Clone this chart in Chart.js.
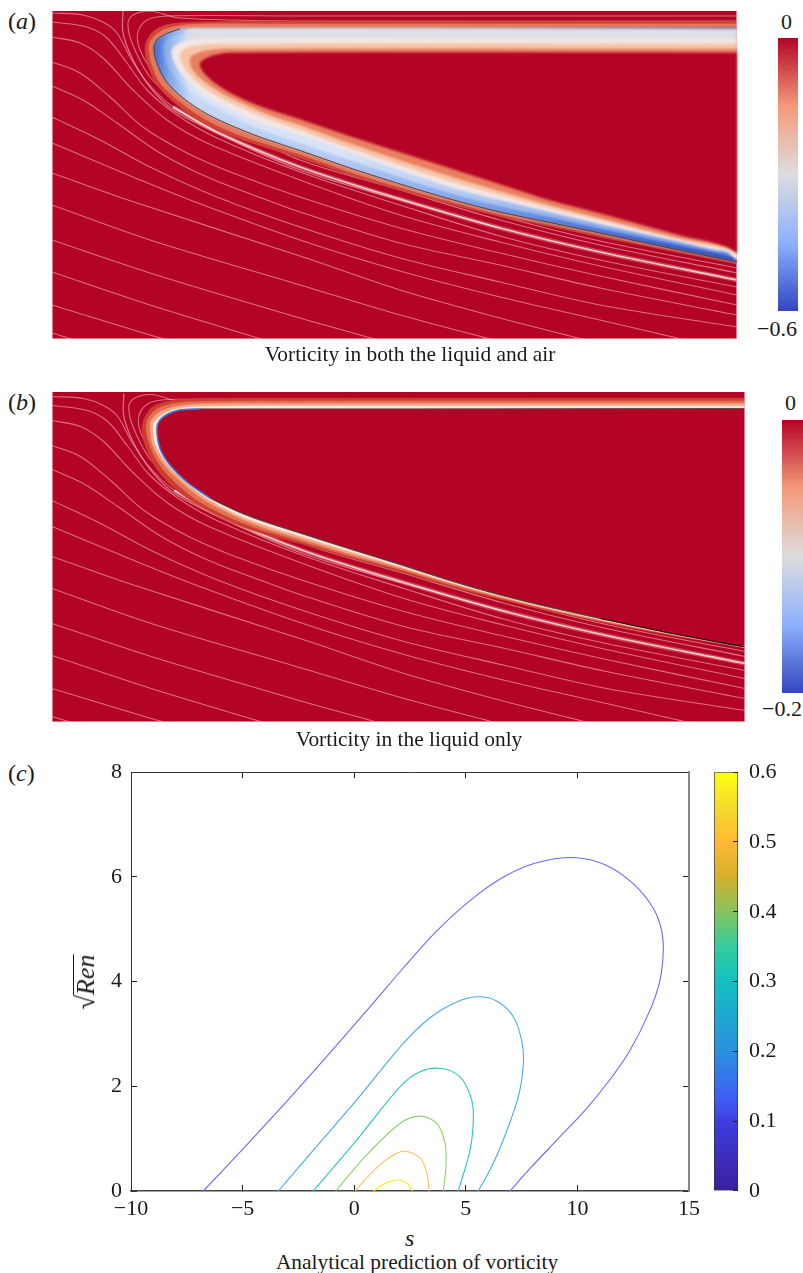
<!DOCTYPE html>
<html><head><meta charset="utf-8">
<script src="https://cdn.jsdelivr.net/npm/chart.js@4"></script>
<style>
html,body{margin:0;padding:0;background:#fff;width:803px;height:1273px;overflow:hidden}
canvas{position:absolute;display:block}
.field{filter:blur(.6px)}
.soft{filter:blur(1.2px)}
.t{position:absolute;font-family:"Liberation Serif",serif;color:#1a1a1a;white-space:nowrap;line-height:1}
.c{transform:translateX(-50%);font-size:21.4px}
.n{font-size:22px}
.l{font-size:24px}
i{font-style:italic}
</style></head><body>
<canvas id="fa" class="field" style="left:52px;top:11px" width="685" height="328"></canvas>
<canvas id="fa2" class="soft" style="left:52px;top:11px" width="685" height="328"></canvas>
<canvas id="fa3" class="field" style="left:52px;top:11px" width="685" height="328"></canvas>
<canvas id="fb" class="field" style="left:52px;top:392px" width="693" height="330"></canvas>
<canvas id="ca" style="left:778px;top:38px" width="20" height="273"></canvas>
<canvas id="cb" style="left:782px;top:420px" width="21" height="273"></canvas>
<canvas id="pc" style="left:70px;top:744px" width="641" height="481"></canvas>
<canvas id="cc" style="left:714px;top:743px" width="76" height="477"></canvas>

<div class="t l" style="left:8px;top:9px">(<i>a</i>)</div>
<div class="t l" style="left:8px;top:390px">(<i>b</i>)</div>
<div class="t l" style="left:8px;top:761px">(<i>c</i>)</div>
<div class="t n" style="left:781px;top:11px">0</div>
<div class="t n" style="left:757px;top:318px">−0.6</div>
<div class="t n" style="left:785px;top:392px">0</div>
<div class="t n" style="left:762px;top:698px">−0.2</div>
<div class="t c" style="left:410px;top:344px">Vorticity in both the liquid and air</div>
<div class="t c" style="left:409px;top:729px">Vorticity in the liquid only</div>
<div class="t c" style="left:417px;top:1252px">Analytical prediction of vorticity</div>
<div class="t" style="left:405px;top:1226px;font-size:24px"><i>s</i></div>
<div class="t" style="left:86px;top:982px;font-size:26px;transform:translate(-50%,-50%) rotate(-90deg)">√<i style="display:inline-block;line-height:23px;border-top:1.2px solid #1a1a1a">Ren</i></div>

<script>
// ---------- panels (a), (b): shared flow coordinates ----------
const streamTopOuter = [[737,16],[300,16],[167,16],[147,20],[138,32],[140,50],[157,77],[183,100],[233,125],[300,157],[400,187],[500,216],[600,241],[737,268]];
const streamTopInner = [[737,21],[300,21],[180,18],[150,11],[133,15],[128,23],[132,43],[150,77],[177,100],[233,128],[300,160],[400,190],[500,220],[600,245],[737,273]];
const streamFan = [[123,10],[123,33],[133,60],[150,87],[173,110],[217,133],[300,170],[400,200],[500,228]];
const streamWhite = [[52,13],[83,15],[103,22],[117,33],[130,57],[147,82],[173,107],[217,132],[300,167],[400,199],[500,228],[600,252],[737,280]];
const stream2 = [[52,22],[87,27],[107,38],[127,63],[147,90],[177,115],[217,138],[300,172],[400,205],[500,236],[600,260],[737,287]];
const stream3 = [[52,37],[80,43],[103,58],[133,90],[167,120],[207,143],[300,180],[400,215],[500,242],[600,266],[737,295]];
const stream4 = [[52,62],[80,73],[110,97],[143,127],[187,153],[233,173],[300,197],[400,228],[500,253],[600,276],[737,305]];
const stream5 = [[52,86],[83,100],[117,123],[160,153],[207,177],[267,200],[300,212],[400,243],[500,265],[600,288],[737,315]];
const stream6 = [[52,117],[100,140],[150,167],[217,197],[300,227],[400,258],[500,282],[600,305],[737,327]];
const stream7 = [[52,143],[133,177],[190,200],[300,240],[400,271],[500,297],[600,320],[690,341]];
const stream8 = [[52,173],[128,200],[300,256],[400,290],[500,318],[590,341]];
const stream9 = [[52,205],[150,240],[300,285],[400,315],[498,341]];
const stream10 = [[52,240],[150,273],[300,318],[382,341]];
const stream11 = [[52,272],[150,305],[268,341]];
const stream12 = [[52,305],[150,335],[172,341]];
const stream13 = [[52,333],[78,341]];

const interfaceA = [[745,28],[600,28],[400,28],[250,28],[200,28],[180,29],[168,33],[158,39],[154,47],[157,63],[166,81],[183,98],[207,114],[237,128],[264,138.5],[300,150.5],[350,168],[400,184],[450,199],[500,212],[550,222.5],[600,233],[670,248],[737,262],[745,264]];
const outerA1 = [[745,21],[300,21],[200,22],[170,24],[155,30],[147,40],[145,50],[148,66],[158,86],[176,104],[200,121],[232,136],[262,146.5],[300,158],[350,175],[400,190],[450,204],[500,216.5],[550,226.5],[600,237],[670,251],[737,264],[745,265]];
const outerA2 = [[745,24],[300,24],[200,24],[172,27],[158,33],[150,42],[149,50],[152,65],[161,84],[179,101],[203,118],[234,133],[263,143],[300,154.5],[350,172],[400,187.5],[450,201.5],[500,214.5],[550,224.5],[600,235],[670,249.5],[737,263],[745,265]];
const stripA = [[745,29],[196,29],[186,32],[190,43],[745,43]];
const innerA0 = [[745,34],[200,34],[175,36],[165,42],[163,50],[166,62],[176,78],[195,95],[225,113],[262,130],[300,143],[350,160],[400,177],[450,193],[500,206],[550,217],[600,228.5],[680,245.5],[737,258],[745,262]];
const innerA1 = [[745,39],[400,39],[220,39],[190,40],[178,44],[172,50],[174,62],[185,78],[205,95],[235,112],[262,123.5],[300,135],[350,152],[400,170],[450,187],[500,200],[550,212],[600,224],[680,242],[715,250],[727,252],[737,260],[745,262]];
const innerA2 = [[745,44],[220,44],[195,46],[183,50],[180,55],[183,65],[194,79],[212,93],[238,106],[265,117.5],[300,130],[350,148],[400,165],[450,181],[500,195],[550,208],[600,220],[680,240],[720,248],[728,250],[745,258]];
const innerA3 = [[745,49],[230,49],[205,51],[192,56],[190,60],[193,70],[205,82],[222,93],[245,104],[270,115],[300,125],[350,143],[400,160],[450,176],[500,191],[550,205],[600,218],[680,238],[725,247],[745,258]];
const innerA4 = [[745,53],[230,53],[212,56],[202,61],[200,65],[205,74],[218,85],[235,95],[255,104],[275,111],[300,119],[350,136],[400,152],[450,168],[500,184],[550,200],[600,213],[680,235],[725,246],[745,258]];

const interfaceB = [[745,25],[396,25.5],[248,25.5],[198,25.5],[178.5,26.5],[166.7,30.5],[158.8,36.5],[155.8,44.5],[158.7,64.5],[168.6,81.5],[185.4,98.5],[208.2,114.5],[237.8,129],[264.5,139],[297,149.5],[345,165],[396,181],[445,197],[495,211.5],[545,224],[594,235],[665,250],[737,263.5],[745,265]];
const outerB1 = [[745,14.5],[300,14.5],[200,15],[170,17],[152,23],[144,33],[141,44],[144,62],[155,85],[173,105],[197,122],[230,139],[258,149.5],[297,160],[345,174],[396,188],[445,203],[495,216],[545,228],[594,238.5],[665,252],[737,264.5],[745,266]];
const outerB2 = [[745,17.5],[300,17.5],[200,18],[172,20],[155,26],[147,35],[145,44],[148,60],[158,81],[176,101],[199,119],[232,136],[260,146.5],[297,157.5],[345,172],[396,186],[445,201],[495,214.5],[545,226.5],[594,237.5],[665,251.5],[737,264],[745,266]];
const outerB3 = [[745,20],[300,20],[200,20.5],[174,23],[158,29],[150,37],[149,45],[151,60],[161,79],[179,98],[202,116],[234,133],[261,144],[297,155],[345,170],[396,184.5],[445,199.5],[495,213.5],[545,226],[594,236.5],[665,251],[737,264],[745,266]];
const outerB4 = [[745,22.5],[300,22.5],[200,23],[176,25],[161,31],[153,39],[152,45],[154,60],[164,78],[181,96],[204,114],[235,131],[262,141.5],[297,152.5],[345,167.5],[396,183],[445,198.5],[495,212.5],[545,225],[594,236],[665,250.5],[737,264],[745,266]];

// ---------- panel (c): contour levels (s, sqrt(Re) n) ----------
const level01 = [[-6.76,0],[-4.97,.81],[-2.88,1.78],[-.94,2.71],[.83,3.58],[2.2,4.26],[3.7,4.97],[5.34,5.6],[6.83,6.03],[8.17,6.27],[9.82,6.37],[11.31,6.22],[12.5,5.87],[13.4,5.4],[13.77,4.98],[13.85,4.6],[13.7,4.03],[13.25,3.45],[12.36,2.69],[11.46,2.13],[10.42,1.58],[9.07,.97],[7.88,.43],[6.98,0]];
const level02 = [[-3.4,0],[-1.83,.78],[.11,1.74],[2.2,2.82],[3.4,3.31],[4.59,3.61],[5.49,3.71],[6.38,3.63],[7.13,3.33],[7.5,2.88],[7.58,2.44],[7.35,1.8],[6.68,.98],[6.08,.4],[5.56,0]];
const level03 = [[-1.83,0],[.11,.97],[2.05,1.99],[2.95,2.28],[3.92,2.34],[4.74,2.18],[5.22,1.8],[5.34,1.42],[5.19,.78],[4.66,0]];
const level04 = [[-.83,0],[.56,.69],[2.05,1.29],[2.95,1.43],[3.7,1.29],[4.07,.91],[4.11,.46],[3.99,0]];
const level05 = [[.04,0],[1,.44],[1.9,.72],[2.42,.75],[3.02,.59],[3.29,.27],[3.35,0]];
const level06 = [[.86,0],[1.46,.16],[1.98,.21],[2.42,.13],[2.62,0]];
const levelColors = ['#6a6cf2','#4ba9f0','#2cc5bd','#8fce6c','#fcc062','#f6ee22'];
const sTicks = [-10,-5,0,5,10,15];
const nTicks = [0,2,4,6,8];
const barTicks = [0,.1,.2,.3,.4,.5,.6];

const RED='#b40426', STREAM='rgba(243,178,178,.62)';
Chart.defaults.animation=false;
Chart.defaults.font.family='"Liberation Serif", serif';
Chart.defaults.color='#1a1a1a';

const xy = a => a.map(([x,y])=>({x,y}));
const poly = (pts,color)=>({data:xy(pts),showLine:true,fill:'shape',backgroundColor:color,borderColor:color,borderWidth:.5,pointRadius:0,tension:.33});
const line = (pts,color,w)=>({data:xy(pts),showLine:true,fill:false,borderColor:color,borderWidth:w,pointRadius:0,tension:.33});

const panelFrame={id:'panelFrame',
 beforeDraw(c){const x=c.ctx,a=c.chartArea;x.save();x.fillStyle=RED;x.fillRect(a.left,a.top,a.width,a.height);x.restore();},
 afterDraw(c){const x=c.ctx,w=c.width,h=c.height;x.save();x.strokeStyle='rgba(245,175,175,.9)';x.lineWidth=1.5;x.beginPath();x.moveTo(0,0);x.lineTo(0,h);x.lineTo(w,h);x.lineTo(w,0);x.stroke();x.restore();}};

function hGradient(id,w,stops){const g=document.getElementById(id).getContext('2d').createLinearGradient(0,0,w,0);
 stops.forEach(([u,c])=>g.addColorStop((u-52)/685,c));return g;}

function streamLayers(){
 const plain=[streamTopOuter,streamTopInner,streamWhite.slice(0,8),stream2,stream3,stream4,stream5,stream6,stream7,stream8,stream9,stream10,stream11,stream12,stream13].map(s=>line(s,STREAM,1.1));
 const bright=streamWhite.slice(6);
 return [line(streamFan,'rgba(243,178,190,.6)',1.3),line(bright,'rgba(250,170,160,.38)',4.5),...plain,line(bright,'rgba(255,236,236,.8)',1.7)];
}
function panelChart(id,yMin,yMax,layers,framed){
 return new Chart(document.getElementById(id),{type:'scatter',
  data:{datasets:layers.slice().reverse()},
  plugins:framed?[panelFrame]:[],
  options:{responsive:false,layout:{padding:0},
   plugins:{legend:{display:false},tooltip:{enabled:false}},
   scales:{x:{type:'linear',display:false,min:52,max:737},y:{type:'linear',display:false,reverse:true,min:yMin,max:yMax}}}});
}

const bandA=hGradient('fa2',685,[[150,'#2f58cb'],[168,'#7aa2e8'],[190,'#c6d8f5'],[340,'#b4caf3'],[430,'#8fb0ed'],[520,'#6a92e3'],[620,'#4069d4'],[737,'#2f4cbe']]);
const bandLightA=hGradient('fa2',685,[[150,'#3f6cd4'],[168,'#8fb2ec'],[190,'#d6e3f8'],[340,'#d6e3f8'],[430,'#bcd1f4'],[520,'#a0bcf0'],[620,'#84a6ea'],[737,'#5f88e0']]);
panelChart('fa',11,339,[...streamLayers(),poly(outerA1,'#cf4436'),poly(outerA2,'#e5785a')],true);
panelChart('fa2',11,339,[
 poly(interfaceA,bandA),
 poly(innerA0,bandLightA),
 poly(stripA,'#dcdfe6'),
 poly(innerA1,'#f2e6e4'),poly(innerA2,'#f7c4a8'),poly(innerA3,'#e87f5f'),poly(innerA4,RED)
],false);
panelChart('fa3',11,339,[line(interfaceA.slice(5),'rgba(60,60,55,.85)',1)],false);
panelChart('fb',8.5,338.5,[
 ...streamLayers(),
 poly(outerB1,'#cc3d32'),poly(outerB2,'#e4714f'),poly(outerB3,'#f3a688'),poly(outerB4,'#fbe3d8'),
 poly(interfaceB,RED),
 line(interfaceB.slice(0,4),'rgba(70,80,80,.9)',1.2),
 line(interfaceB.slice(3,12),'#3a74d8',1.6),
 line(interfaceB.slice(11,21),'rgba(50,80,70,.85)',1),
 line(interfaceB.slice(20),'rgba(15,15,15,.95)',1.1)
],true);

// ---------- colour bars ----------
function vGradient(id,y0,y1,stops){const g=document.getElementById(id).getContext('2d').createLinearGradient(0,y0,0,y1);
 stops.forEach(([u,c])=>g.addColorStop(u,c));return g;}
const coolwarm=[[0,'#b40426'],[.25,'#f49a7b'],[.5,'#dddddd'],[.75,'#8db0fe'],[1,'#3346c0']];
function fieldBar(id,lo,h){
 new Chart(document.getElementById(id),{type:'bar',
  data:{labels:['v'],datasets:[{data:[[lo,0]],backgroundColor:vGradient(id,0,h,coolwarm),barPercentage:1,categoryPercentage:1,borderWidth:0}]},
  options:{responsive:false,layout:{padding:0},plugins:{legend:{display:false},tooltip:{enabled:false}},
   scales:{x:{display:false},y:{display:false,min:lo,max:0}}}});
}
fieldBar('ca',-0.6,273);
fieldBar('cb',-0.2,273);

// ---------- panel (c) ----------
const tickFont={size:22,family:'"Liberation Serif", serif'};
const fmt=v=>String(v).replace('-','\u2212');
const fixedSize=(k,s)=>sc=>{sc[k]=s;};
new Chart(document.getElementById('pc'),{type:'scatter',
 data:{datasets:[level01,level02,level03,level04,level05,level06].map((l,i)=>line(l,levelColors[i],1.1))},
 options:{responsive:false,layout:{padding:{top:20,right:20,left:0,bottom:0}},
  plugins:{legend:{display:false},tooltip:{enabled:false}},
  scales:{
   x:{type:'linear',position:'bottom',min:-10,max:15,afterBuildTicks:s=>{s.ticks=sTicks.map(v=>({value:v}));},afterFit:fixedSize('height',34),
      border:{display:true,color:'#444',width:1.5},grid:{drawOnChartArea:false,tickLength:-6,tickColor:'#222',tickWidth:1},
      ticks:{font:tickFont,padding:11,maxRotation:0,autoSkip:false,callback:fmt}},
   y:{type:'linear',position:'left',min:0,max:8,afterBuildTicks:s=>{s.ticks=nTicks.map(v=>({value:v}));},afterFit:fixedSize('width',61),
      border:{display:true,color:'#333',width:1},grid:{drawOnChartArea:false,tickLength:-6,tickColor:'#222',tickWidth:1},
      ticks:{font:tickFont,padding:15,autoSkip:false,callback:fmt}},
   x2:{type:'linear',position:'top',min:-10,max:15,afterBuildTicks:s=>{s.ticks=sTicks.map(v=>({value:v}));},afterFit:fixedSize('height',0),
      border:{display:true,color:'#333',width:1},grid:{drawOnChartArea:false,tickLength:-6,tickColor:'#222',tickWidth:1},ticks:{display:false}},
   y2:{type:'linear',position:'right',min:0,max:8,afterBuildTicks:s=>{s.ticks=nTicks.map(v=>({value:v}));},afterFit:fixedSize('width',0),
      border:{display:true,color:'#888',width:2},grid:{drawOnChartArea:false,tickLength:-6,tickColor:'#222',tickWidth:1},ticks:{display:false}}
  }}});

const parula=[[0,'#ffff14'],[.0833,'#f3dc2c'],[.1667,'#ffb834'],[.25,'#d6b02e'],[.3333,'#86c45c'],[.4167,'#33cc9e'],[.5,'#14c0c2'],[.6667,'#2a90e0'],[.7833,'#3f5df5'],[.8333,'#3d3de0'],[1,'#3b1f9e']];
new Chart(document.getElementById('cc'),{type:'bar',
 data:{labels:['v'],datasets:[{data:[[0,.6]],backgroundColor:vGradient('cc',29,448,parula),
   borderColor:'#333',borderWidth:1,borderSkipped:false,barPercentage:1,categoryPercentage:1}]},
 options:{responsive:false,layout:{padding:{top:20,bottom:20,left:0,right:0}},plugins:{legend:{display:false},tooltip:{enabled:false}},
  scales:{x:{display:false},
   y:{type:'linear',position:'right',min:0,max:.6,afterBuildTicks:s=>{s.ticks=barTicks.map(v=>({value:v}));},afterFit:fixedSize('width',52),
      border:{display:false},grid:{drawOnChartArea:false,tickLength:-5,tickColor:'#222',tickWidth:1,z:2},
      ticks:{font:tickFont,padding:16,autoSkip:false,callback:v=>String(v)}}}}});
</script>
</body></html>
